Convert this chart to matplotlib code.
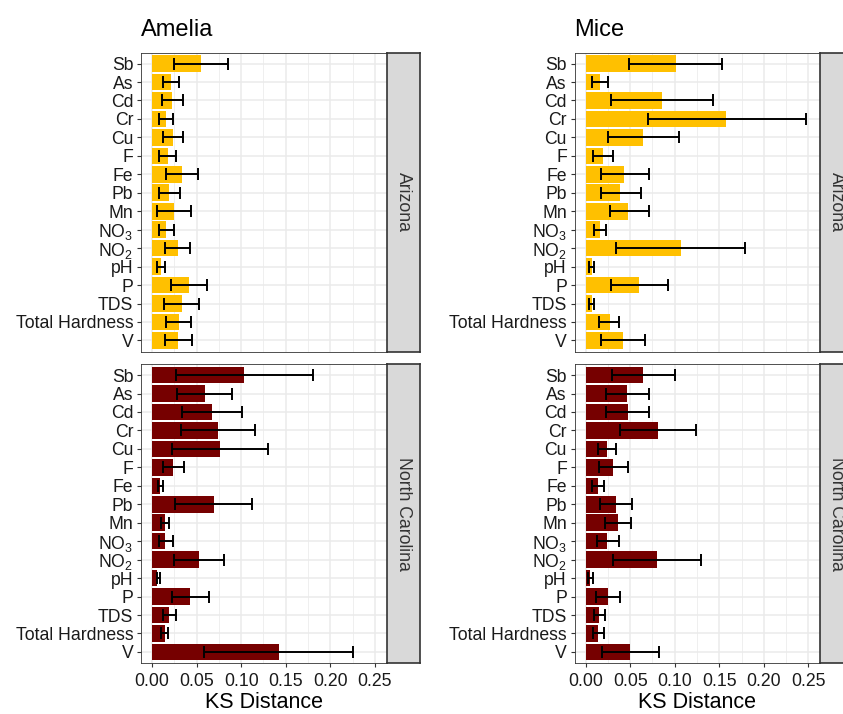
#!/usr/bin/env python3

import matplotlib
matplotlib.use("Agg")
import matplotlib.pyplot as plt
import numpy as np

plt.rcParams["font.family"] = ["Liberation Sans", "DejaVu Sans"]
plt.rcParams["mathtext.fontset"] = "custom"
plt.rcParams["mathtext.rm"] = "Liberation Sans"

OUTPUT_FNAME = "out.png"

params = ["Sb", "As", "Cd", "Cr", "Cu", "F", "Fe", "Pb", "Mn",
          r"NO$_3$", r"NO$_2$", "pH", "P", "TDS", "Total Hardness", "V"]

methods = ["Amelia", "Mice"]
states = ["Arizona", "North Carolina"]
state_colors = {"Arizona": "#FFC000", "North Carolina": "#760000"}

# KS distance (mean, lower, upper), rows in the order of params
amelia_az_ks = [0.055, 0.021, 0.022, 0.016, 0.023, 0.018, 0.034, 0.019, 0.025, 0.016, 0.029, 0.010, 0.041, 0.034, 0.030, 0.029]
amelia_az_lo = [0.025, 0.012, 0.011, 0.008, 0.012, 0.008, 0.016, 0.008, 0.005, 0.008, 0.014, 0.005, 0.021, 0.013, 0.016, 0.014]
amelia_az_hi = [0.085, 0.030, 0.035, 0.024, 0.035, 0.027, 0.052, 0.031, 0.044, 0.025, 0.043, 0.014, 0.062, 0.053, 0.044, 0.045]

mice_az_ks = [0.101, 0.016, 0.086, 0.158, 0.064, 0.020, 0.043, 0.039, 0.048, 0.016, 0.107, 0.007, 0.060, 0.007, 0.027, 0.042]
mice_az_lo = [0.049, 0.007, 0.028, 0.070, 0.025, 0.008, 0.017, 0.017, 0.027, 0.010, 0.034, 0.004, 0.028, 0.004, 0.015, 0.017]
mice_az_hi = [0.153, 0.025, 0.143, 0.247, 0.105, 0.031, 0.071, 0.062, 0.071, 0.023, 0.179, 0.010, 0.092, 0.010, 0.038, 0.067]

amelia_nc_ks = [0.103, 0.059, 0.067, 0.074, 0.076, 0.024, 0.009, 0.069, 0.015, 0.015, 0.053, 0.006, 0.043, 0.019, 0.014, 0.142]
amelia_nc_lo = [0.027, 0.028, 0.034, 0.032, 0.022, 0.012, 0.007, 0.026, 0.010, 0.008, 0.025, 0.005, 0.022, 0.012, 0.010, 0.058]
amelia_nc_hi = [0.180, 0.090, 0.101, 0.116, 0.130, 0.036, 0.012, 0.112, 0.019, 0.024, 0.081, 0.009, 0.064, 0.027, 0.018, 0.225]

mice_nc_ks = [0.065, 0.047, 0.048, 0.081, 0.024, 0.031, 0.014, 0.034, 0.036, 0.024, 0.080, 0.005, 0.025, 0.015, 0.014, 0.050]
mice_nc_lo = [0.030, 0.023, 0.023, 0.039, 0.014, 0.015, 0.007, 0.016, 0.022, 0.013, 0.031, 0.003, 0.012, 0.009, 0.008, 0.019]
mice_nc_hi = [0.100, 0.071, 0.071, 0.124, 0.034, 0.048, 0.021, 0.052, 0.051, 0.037, 0.130, 0.008, 0.039, 0.022, 0.021, 0.082]

data = {
    ("Amelia", "Arizona"): (amelia_az_ks, amelia_az_lo, amelia_az_hi),
    ("Mice", "Arizona"): (mice_az_ks, mice_az_lo, mice_az_hi),
    ("Amelia", "North Carolina"): (amelia_nc_ks, amelia_nc_lo, amelia_nc_hi),
    ("Mice", "North Carolina"): (mice_nc_ks, mice_nc_lo, mice_nc_hi),
}

W, H = 843, 714
col_left = {"Amelia": 141, "Mice": 574.5}
panel_w = 245.5
strip_w = 33.5
row_top = {"Arizona": 52.5, "North Carolina": 364}
panel_h = 299

TXT = "#1a1a1a"
BORDER = "#333333"


def px_axes(fig, x, y, w, h):
    return fig.add_axes([x / W, 1 - (y + h) / H, w / W, h / H])


def panel(fig, method, state, bottom):
    ks, lo, hi = [np.asarray(v) for v in data[(method, state)]]
    y = np.arange(len(params))
    ax = px_axes(fig, col_left[method], row_top[state], panel_w, panel_h)
    ax.set_axisbelow(True)
    ax.barh(y, ks, height=0.9, color=state_colors[state], zorder=2)
    ax.errorbar(ks, y, xerr=[ks - lo, hi - ks], fmt="none", ecolor="black",
                elinewidth=1.4, capsize=4.5, capthick=1.4, zorder=3)
    ax.set_xlim(-0.0124, 0.2630)
    ax.set_ylim(len(params) - 0.4, -0.6)
    ax.set_yticks(y, labels=params)
    ax.set_xticks(np.arange(0, 0.26, 0.05))
    ax.set_xticks(np.arange(0.025, 0.26, 0.05), minor=True)
    ax.grid(which="major", color="#EBEBEB", linewidth=1.1, zorder=0)
    ax.grid(which="minor", axis="x", color="#EBEBEB", linewidth=0.55, zorder=0)
    ax.tick_params(axis="y", length=3, width=0.8, color=BORDER, labelsize=12.7,
                   labelcolor=TXT, pad=2.5)
    ax.tick_params(which="minor", length=0)
    if bottom:
        ax.tick_params(axis="x", length=3, width=0.8, color=BORDER,
                       labelsize=12.7, labelcolor=TXT, pad=4.5)
        ax.set_xticklabels(["0.00", "0.05", "0.10", "0.15", "0.20", "0.25"])
        ax.set_xlabel("KS Distance", fontsize=15.5, color="black", labelpad=1.5)
    else:
        ax.tick_params(axis="x", length=0, labelbottom=False)
    for s in ax.spines.values():
        s.set_color(BORDER)
        s.set_linewidth(0.6)

    # facet strip on the right
    st = px_axes(fig, col_left[method] + panel_w, row_top[state], strip_w, panel_h)
    st.set_facecolor("#D9D9D9")
    st.set_xticks([])
    st.set_yticks([])
    for s in st.spines.values():
        s.set_color(BORDER)
        s.set_linewidth(1.2)
    st.text(0.5, 0.5, state, rotation=-90, ha="center", va="center",
            fontsize=12.7, color="#333333", transform=st.transAxes)
    return ax


def plot():
    fig = plt.figure(figsize=(W / 100, H / 100), dpi=100)
    for method in methods:
        top = panel(fig, method, "Arizona", bottom=False)
        panel(fig, method, "North Carolina", bottom=True)
        top.set_title(method, loc="left", fontsize=17, color="black", pad=12)
    fig.savefig(OUTPUT_FNAME, dpi=100)


def main():
    plot()


if __name__ == "__main__":
    main()
